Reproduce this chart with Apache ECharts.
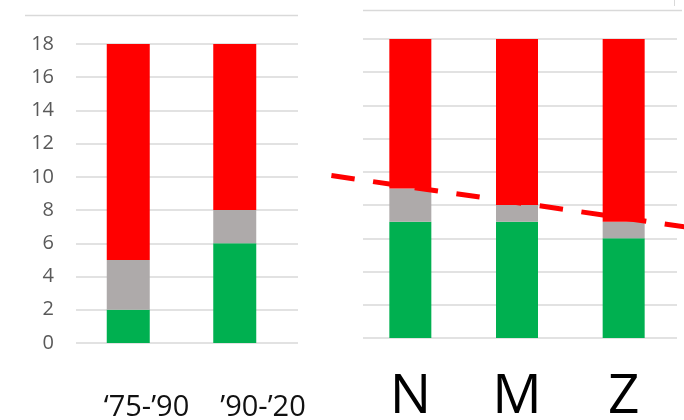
<!DOCTYPE html>
<html>
<head>
<meta charset="utf-8">
<script src="https://cdn.jsdelivr.net/npm/echarts@6/dist/echarts.min.js"></script>
<style>
html,body{margin:0;padding:0;background:#fff;}
#c{width:684px;height:420px;}
</style>
</head>
<body>
<div id="c"></div>
<script>
// ---- data ----
const leftCats = ['\u201875-\u201990', '\u201990-\u201920'];
const leftGreen = [2, 6];
const leftGray = [3, 2];
const leftRed = [13, 10];

const rightCats = ['N', 'M', 'Z'];
const rightGreen = [7, 7, 6];
const rightGray = [2, 1, 1];
const rightRed = [9, 10, 11];

const yMin = 0, yMax = 18, yStep = 2;

// dashed trend line endpoints (x in category units of right chart, y in values)
const trendX = [-0.74, 2.57];
const trendY = [9.78, 6.69];

// ---- styles ----
const RED = '#ff0000', GRAY = '#aeaaaa', GREEN = '#00b050';
const GRID_C = '#d9d9d9';

const chart = echarts.init(document.getElementById('c'), null, {renderer: 'canvas'});

function gridAxisY(gi, showLabels, showSplit) {
  return {
    type: 'value', gridIndex: gi, min: yMin, max: yMax, interval: yStep,
    axisLine: {show: false}, axisTick: {show: false},
    axisLabel: {show: showLabels, color: '#595959', fontSize: 20, fontFamily: 'Open Sans', margin: 22},
    splitLine: {show: showSplit, lineStyle: {color: GRID_C, width: 1.5}}
  };
}
function hiddenCat(gi, data) {
  return {type: 'category', gridIndex: gi, data: data,
    axisLine: {show: false}, axisTick: {show: false}, axisLabel: {show: false}, splitLine: {show: false}};
}

function stackSeries(xi, yi, stackName, g, gr, r, bw) {
  return [
    {type: 'bar', xAxisIndex: xi, yAxisIndex: yi, stack: stackName, barWidth: bw, data: g, itemStyle: {color: GREEN}, silent: true},
    {type: 'bar', xAxisIndex: xi, yAxisIndex: yi, stack: stackName, barWidth: bw, data: gr, itemStyle: {color: GRAY}, silent: true},
    {type: 'bar', xAxisIndex: xi, yAxisIndex: yi, stack: stackName, barWidth: bw, data: r, itemStyle: {color: RED}, silent: true}
  ];
}

const gridBase = {outerBoundsMode: 'none', containLabel: false};

const option = {
  animation: false,
  backgroundColor: '#ffffff',
  grid: [
    Object.assign({left: 76, width: 222, top: 44, height: 299}, gridBase),   // 0 left gridlines + labels
    Object.assign({left: 75, width: 213, top: 44, height: 299}, gridBase),   // 1 left bars
    Object.assign({left: 363, width: 314, top: 39, height: 299}, gridBase),  // 2 right gridlines
    Object.assign({left: 357, width: 320, top: 39, height: 299}, gridBase),  // 3 right bars
    Object.assign({left: 250.33, width: 533.33, top: 39, height: 299}, gridBase) // 4 trend line (same scale as 3, one category wider each side)
  ],
  xAxis: [
    hiddenCat(0, leftCats),
    hiddenCat(1, leftCats),
    hiddenCat(2, rightCats),
    {type: 'category', gridIndex: 3, data: rightCats,
      axisLine: {show: false}, axisTick: {show: false}, splitLine: {show: false},
      axisLabel: {show: true, color: '#000000', fontSize: 55, fontFamily: 'Open Sans', margin: 32}},
    {type: 'value', gridIndex: 4, min: -1.5, max: 3.5, show: false}
  ],
  yAxis: [
    gridAxisY(0, true, true),
    gridAxisY(1, false, false),
    gridAxisY(2, false, true),
    gridAxisY(3, false, false),
    Object.assign(gridAxisY(4, false, false), {show: false})
  ],
  series: [].concat(
    stackSeries(1, 1, 'L', leftGreen, leftGray, leftRed, 43),
    stackSeries(3, 3, 'R', rightGreen, rightGray, rightRed, 42),
    [{
      type: 'line', xAxisIndex: 4, yAxisIndex: 4, clip: false, symbol: 'none', silent: true, z: 10,
      data: [[trendX[0], trendY[0]], [trendX[1], trendY[1]]],
      lineStyle: {color: RED, width: 5, type: [23.5, 18.6], dashOffset: 0, cap: 'butt'}
    }]
  ),
  graphic: [
    {type: 'line', shape: {x1: 25, y1: 15.5, x2: 298, y2: 15.5}, style: {stroke: GRID_C, lineWidth: 1.5}, silent: true},
    {type: 'line', shape: {x1: 363, y1: 10.5, x2: 682, y2: 10.5}, style: {stroke: GRID_C, lineWidth: 1.5}, silent: true},
    {type: 'line', shape: {x1: 674.5, y1: 0, x2: 674.5, y2: 6}, style: {stroke: GRID_C, lineWidth: 1}, silent: true},
    {type: 'text', x: 146.5, y: 408, style: {text: leftCats[0], font: '29px "Open Sans"', fill: '#111111', textAlign: 'center', textVerticalAlign: 'middle'}, silent: true},
    {type: 'text', x: 263, y: 408, style: {text: leftCats[1], font: '29px "Open Sans"', fill: '#111111', textAlign: 'center', textVerticalAlign: 'middle'}, silent: true}
  ]
};
chart.setOption(option);
</script>
</body>
</html>
